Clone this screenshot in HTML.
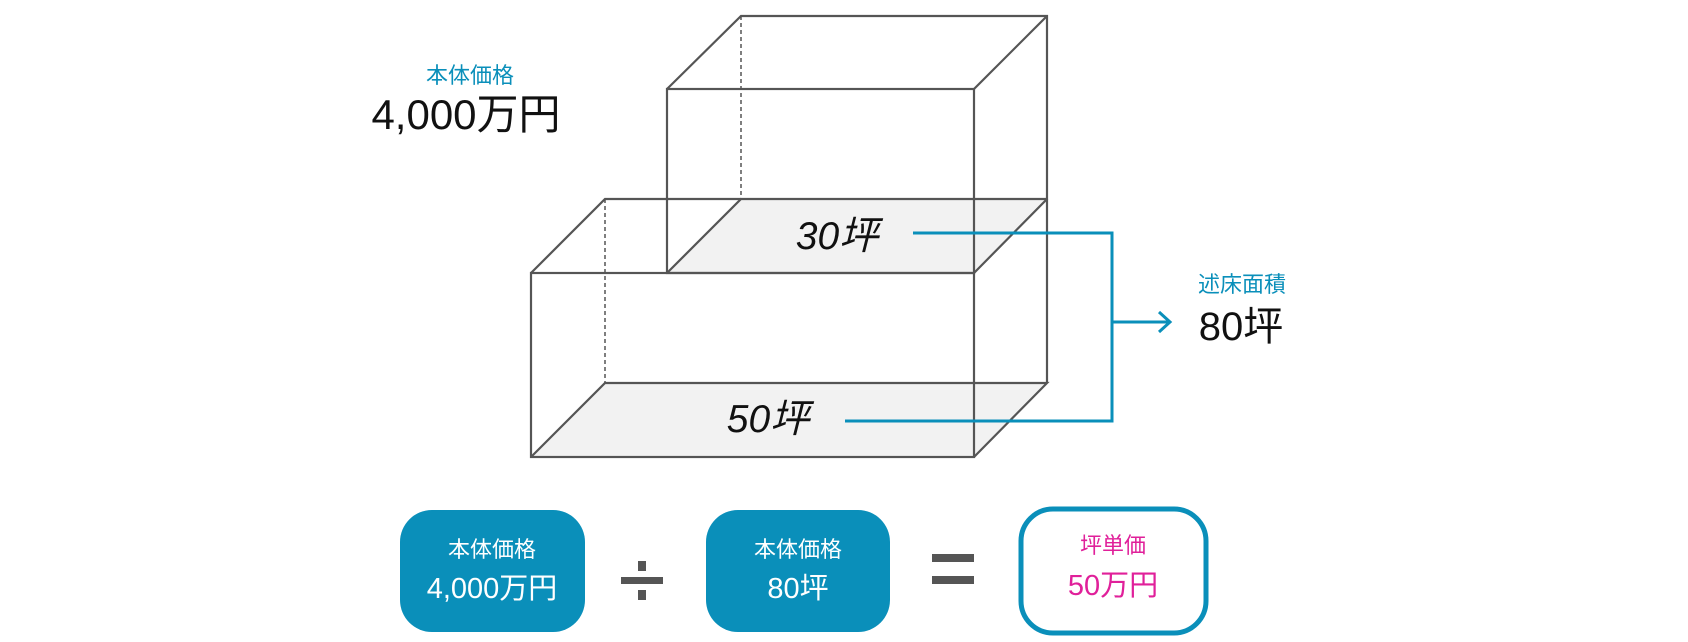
<!DOCTYPE html>
<html><head><meta charset="utf-8"><style>
body{margin:0;width:1688px;height:642px;background:#fff;overflow:hidden;font-family:"Liberation Sans","Noto Sans CJK JP",sans-serif}
</style></head><body>
<svg width="1688" height="642" viewBox="0 0 1688 642" xmlns="http://www.w3.org/2000/svg" style="position:absolute;left:0;top:0">
<g font-family="Liberation Sans, Noto Sans CJK JP, sans-serif">
<polygon points="741,199 1047,199 974,273 667,273" fill="#f2f2f2"/>
<polygon points="605,383 1047,383 974,457 531,457" fill="#f2f2f2"/>
<g stroke="#555" stroke-width="2.2" fill="none">
<line x1="741" y1="16" x2="741" y2="199" stroke-dasharray="4,3" stroke-width="1.5"/>
<polyline points="667,89 741,16 1047,16 1047,199 974,273"/>
<rect x="667" y="89" width="307" height="184"/>
<line x1="1047" y1="16" x2="974" y2="89"/>
<polyline points="667,273 741,199 1047,199"/>
<line x1="605" y1="199" x2="605" y2="383" stroke-dasharray="4,3" stroke-width="1.5"/>
<polyline points="531,273 605,199 741,199"/>
<line x1="1047" y1="199" x2="1047" y2="383"/>
<rect x="531" y="273" width="443" height="184"/>
<polyline points="531,457 605,383 1047,383 974,457"/>
</g>
<text x="837" y="249" font-size="39" font-style="italic" text-anchor="middle" fill="#111">30坪</text>
<text x="768" y="432" font-size="39" font-style="italic" text-anchor="middle" fill="#111">50坪</text>
<g stroke="#0a8fba" stroke-width="3" fill="none">
<polyline points="913,233 1112,233 1112,421 845,421"/>
<line x1="1112" y1="322" x2="1170" y2="322"/>
<polyline points="1159,312 1170,322 1159,332"/>
</g>
<text x="1242" y="292" font-size="22" text-anchor="middle" fill="#0a8fba">述床面積</text>
<text x="1241" y="340" font-size="40" text-anchor="middle" fill="#111">80坪</text>
<text x="470" y="83" font-size="22" text-anchor="middle" fill="#0a8fba">本体価格</text>
<text x="466" y="129" font-size="42" text-anchor="middle" fill="#111">4,000万円</text>
<rect x="400" y="510" width="185" height="122" rx="32" fill="#0a8fba"/>
<rect x="706" y="510" width="184" height="122" rx="32" fill="#0a8fba"/>
<rect x="1021" y="509" width="185" height="124" rx="32" fill="#fff" stroke="#0a8fba" stroke-width="5"/>
<text x="492" y="557" font-size="22" text-anchor="middle" fill="#fff">本体価格</text>
<text x="492" y="598" font-size="29" text-anchor="middle" fill="#fff">4,000万円</text>
<text x="798" y="557" font-size="22" text-anchor="middle" fill="#fff">本体価格</text>
<text x="798" y="598" font-size="29" text-anchor="middle" fill="#fff">80坪</text>
<text x="1113" y="553" font-size="22" text-anchor="middle" fill="#e0209a">坪単価</text>
<text x="1113" y="595" font-size="29" text-anchor="middle" fill="#e0209a">50万円</text>
<g fill="#555">
<rect x="621" y="577" width="42" height="7"/>
<rect x="638" y="561" width="8" height="10"/>
<rect x="638" y="590" width="8" height="10"/>
<rect x="932" y="554" width="42" height="8"/>
<rect x="932" y="576" width="42" height="8"/>
</g>
</g>
</svg>
</body></html>
